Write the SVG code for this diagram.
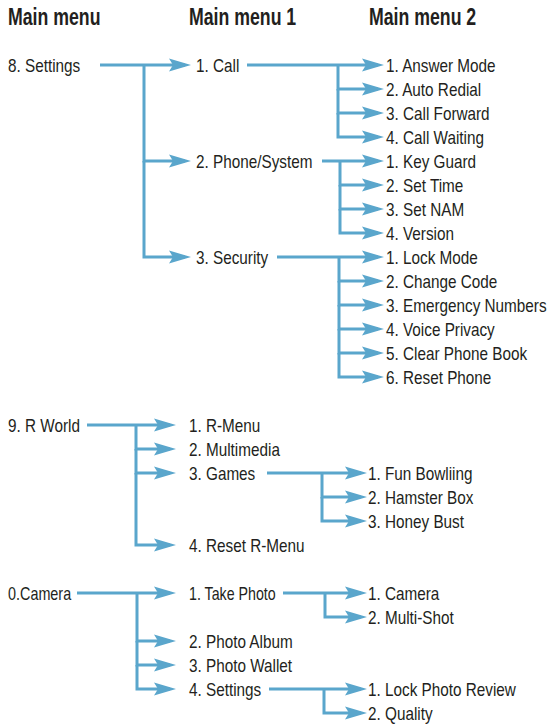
<svg xmlns="http://www.w3.org/2000/svg" width="547" height="725" viewBox="0 0 547 725">
<style>
.t{font-family:"Liberation Sans",Arial,sans-serif;font-size:18px;fill:#231f20}
.h{font-family:"Liberation Sans",Arial,sans-serif;font-size:23px;font-weight:bold;fill:#231f20}
.c{fill:none;stroke:#5aa6cc;stroke-width:3;stroke-linejoin:miter;marker-end:url(#ah)}
</style>
<defs>
<marker id="ah" markerUnits="userSpaceOnUse" viewBox="-17 -7 24 14" refX="0" refY="0" markerWidth="24" markerHeight="14" orient="auto">
<path d="M6,0 L-16,-6.5 L-12,0 L-16,6.5 Z" fill="#5aa6cc"/>
</marker>
</defs>
<rect width="547" height="725" fill="#ffffff"/>

<g id="headers">
<g id="h0" transform="translate(8,25) scale(0.77,1)"><text class="h">Main menu</text></g>
<g id="h1" transform="translate(189,25) scale(0.77,1)"><text class="h">Main menu 1</text></g>
<g id="h2" transform="translate(369,25) scale(0.77,1)"><text class="h">Main menu 2</text></g>
</g>

<g id="connectors">
<!-- Section 1 -->
<path class="c" d="M100,65 H185"/>
<path class="c" d="M144,65 V161 H185"/>
<path class="c" d="M144,161 V257 H185"/>
<path class="c" d="M247,65 H378"/>
<path class="c" d="M338,65 V89 H378"/>
<path class="c" d="M338,89 V113 H378"/>
<path class="c" d="M338,113 V137 H378"/>
<path class="c" d="M322,161 H378"/>
<path class="c" d="M340,161 V185 H378"/>
<path class="c" d="M340,185 V209 H378"/>
<path class="c" d="M340,209 V233 H378"/>
<path class="c" d="M277,257 H378"/>
<path class="c" d="M339,257 V281 H378"/>
<path class="c" d="M339,281 V305 H378"/>
<path class="c" d="M339,305 V329 H378"/>
<path class="c" d="M339,329 V353 H378"/>
<path class="c" d="M339,353 V377 H378"/>
<!-- Section 2 -->
<path class="c" d="M87,425 H170"/>
<path class="c" d="M136,425 V449 H170"/>
<path class="c" d="M136,449 V473 H170"/>
<path class="c" d="M136,473 V545 H170"/>
<path class="c" d="M267,473 H361"/>
<path class="c" d="M322,473 V497 H361"/>
<path class="c" d="M322,497 V521 H361"/>
<!-- Section 3 -->
<path class="c" d="M77,593 H170"/>
<path class="c" d="M137,593 V641 H170"/>
<path class="c" d="M137,641 V665 H170"/>
<path class="c" d="M137,665 V689 H170"/>
<path class="c" d="M283,593 H361"/>
<path class="c" d="M325,593 V617 H361"/>
<path class="c" d="M269,689 H361"/>
<path class="c" d="M324,689 V713 H361"/>
</g>

<g id="n-settings" transform="translate(8,71.5) scale(0.85,1)"><text class="t">8. Settings</text></g>
<g id="n-call" transform="translate(196,71.5) scale(0.85,1)"><text class="t">1. Call</text></g>
<g id="n-phone" transform="translate(196,167.5) scale(0.85,1)"><text class="t">2. Phone/System</text></g>
<g id="n-security" transform="translate(196,263.5) scale(0.85,1)"><text class="t">3. Security</text></g>
<g id="n-answer" transform="translate(386,71.5) scale(0.85,1)"><text class="t">1. Answer Mode</text></g>
<g id="n-redial" transform="translate(386,95.5) scale(0.85,1)"><text class="t">2. Auto Redial</text></g>
<g id="n-forward" transform="translate(386,119.5) scale(0.85,1)"><text class="t">3. Call Forward</text></g>
<g id="n-waiting" transform="translate(386,143.5) scale(0.85,1)"><text class="t">4. Call Waiting</text></g>
<g id="n-keyguard" transform="translate(386,167.5) scale(0.85,1)"><text class="t">1. Key Guard</text></g>
<g id="n-settime" transform="translate(386,191.5) scale(0.85,1)"><text class="t">2. Set Time</text></g>
<g id="n-setnam" transform="translate(386,215.5) scale(0.85,1)"><text class="t">3. Set NAM</text></g>
<g id="n-version" transform="translate(386,239.5) scale(0.85,1)"><text class="t">4. Version</text></g>
<g id="n-lockmode" transform="translate(386,263.5) scale(0.85,1)"><text class="t">1. Lock Mode</text></g>
<g id="n-changecode" transform="translate(386,287.5) scale(0.85,1)"><text class="t">2. Change Code</text></g>
<g id="n-emergency" transform="translate(386,311.5) scale(0.85,1)"><text class="t">3. Emergency Numbers</text></g>
<g id="n-voice" transform="translate(386,335.5) scale(0.85,1)"><text class="t">4. Voice Privacy</text></g>
<g id="n-clearbook" transform="translate(386,359.5) scale(0.85,1)"><text class="t">5. Clear Phone Book</text></g>
<g id="n-resetphone" transform="translate(386,383.5) scale(0.85,1)"><text class="t">6. Reset Phone</text></g>

<g id="n-rworld" transform="translate(8,431.5) scale(0.85,1)"><text class="t">9. R World</text></g>
<g id="n-rmenu" transform="translate(189,431.5) scale(0.85,1)"><text class="t">1. R-Menu</text></g>
<g id="n-multimedia" transform="translate(189,455.5) scale(0.85,1)"><text class="t">2. Multimedia</text></g>
<g id="n-games" transform="translate(189,479.5) scale(0.85,1)"><text class="t">3. Games</text></g>
<g id="n-resetrmenu" transform="translate(189,551.5) scale(0.85,1)"><text class="t">4. Reset R-Menu</text></g>
<g id="n-bowling" transform="translate(368,479.5) scale(0.85,1)"><text class="t">1. Fun Bowliing</text></g>
<g id="n-hamster" transform="translate(368,503.5) scale(0.85,1)"><text class="t">2. Hamster Box</text></g>
<g id="n-honey" transform="translate(368,527.5) scale(0.85,1)"><text class="t">3. Honey Bust</text></g>

<g id="n-camera" transform="translate(8,599.5) scale(0.8,1)"><text class="t">0.Camera</text></g>
<g id="n-takephoto" transform="translate(189,599.5) scale(0.79,1)"><text class="t">1. Take Photo</text></g>
<g id="n-album" transform="translate(189,647.5) scale(0.85,1)"><text class="t">2. Photo Album</text></g>
<g id="n-wallet" transform="translate(189,671.5) scale(0.85,1)"><text class="t">3. Photo Wallet</text></g>
<g id="n-camsettings" transform="translate(189,695.5) scale(0.85,1)"><text class="t">4. Settings</text></g>
<g id="n-cam1" transform="translate(368,599.5) scale(0.85,1)"><text class="t">1. Camera</text></g>
<g id="n-multishot" transform="translate(368,623.5) scale(0.85,1)"><text class="t">2. Multi-Shot</text></g>
<g id="n-lockreview" transform="translate(368,695.5) scale(0.85,1)"><text class="t">1. Lock Photo Review</text></g>
<g id="n-quality" transform="translate(368,719.5) scale(0.85,1)"><text class="t">2. Quality</text></g>
</svg>
